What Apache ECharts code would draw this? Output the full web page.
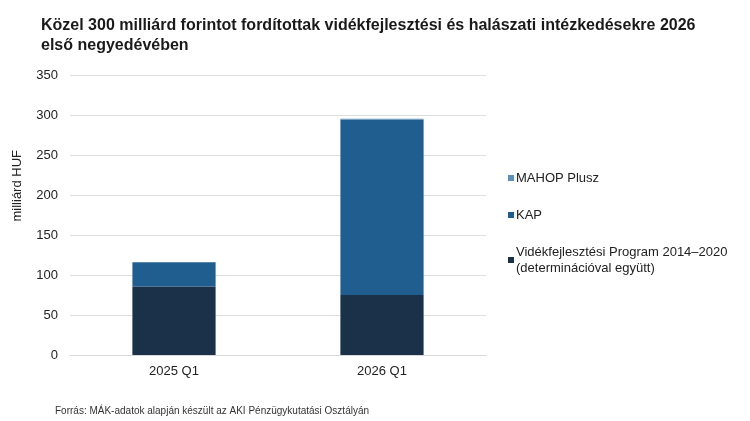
<!DOCTYPE html>
<html>
<head>
<meta charset="utf-8">
<script src="https://cdn.jsdelivr.net/npm/echarts@6/dist/echarts.min.js"></script>
<style>
  html, body { margin: 0; padding: 0; background: #fff; }
  #chart { width: 750px; height: 421px; }
</style>
</head>
<body>
<div id="chart"></div>
<script>
const categories = ['2025 Q1', '2026 Q1']
const videkValues = [85.5, 75]
const kapValues = [30.5, 219.5]
const mahopValues = [0.3, 0.8]
const yTicks = [0, 50, 100, 150, 200, 250, 300, 350]

const videkName = 'Vidékfejlesztési Program 2014–2020\n(determinációval együtt)'
const font = 'Liberation Sans, Arial, sans-serif'

const chart = echarts.init(document.getElementById('chart'))
chart.setOption({
  animation: false,
  textStyle: { fontFamily: font },
  title: [
    {
      text: 'Közel 300 milliárd forintot fordítottak vidékfejlesztési és halászati intézkedésekre 2026\nelső negyedévében',
      left: 36,
      top: 11,
      textStyle: { fontSize: 16, fontWeight: 'bold', color: '#1a1a1a', lineHeight: 20, fontFamily: font }
    },
    {
      text: 'Forrás: MÁK-adatok alapján készült az AKI Pénzügykutatási Osztályán',
      left: 50,
      top: 401,
      textStyle: { fontSize: 10, fontWeight: 'normal', color: '#333', fontFamily: font }
    }
  ],
  graphic: [
    {
      type: 'text',
      left: 11,
      top: 150,
      rotation: Math.PI / 2,
      style: { text: 'milliárd HUF', fontSize: 13, fill: '#222', fontFamily: font }
    }
  ],
  grid: { left: 70, right: 264, top: 75, bottom: 66 },
  legend: {
    orient: 'vertical',
    left: 503,
    top: 165,
    itemWidth: 6,
    itemHeight: 6,
    itemGap: 21,
    icon: 'rect',
    data: ['MAHOP Plusz', 'KAP', videkName],
    textStyle: { fontSize: 13, color: '#222', lineHeight: 16, padding: [0, 0, 0, -3] }
  },
  xAxis: {
    type: 'category',
    data: categories,
    axisLine: { show: true, lineStyle: { color: '#d9d9d9' } },
    axisTick: { show: false },
    axisLabel: { fontSize: 13, color: '#222', margin: 10 }
  },
  yAxis: {
    type: 'value',
    min: 0,
    max: 350,
    interval: 50,
    axisLabel: {
      fontSize: 13,
      color: '#222',
      margin: 12,
      formatter: v => yTicks.includes(v) ? String(v) : ''
    },
    splitLine: { lineStyle: { color: '#dedede' } }
  },
  series: [
    {
      name: videkName,
      type: 'bar',
      stack: 'total',
      barWidth: '40%',
      data: videkValues,
      itemStyle: { color: '#1b3149' }
    },
    {
      name: 'KAP',
      type: 'bar',
      stack: 'total',
      data: kapValues,
      itemStyle: { color: '#1f5e8f' }
    },
    {
      name: 'MAHOP Plusz',
      type: 'bar',
      stack: 'total',
      data: mahopValues,
      itemStyle: { color: '#5d8fb8' }
    }
  ]
})
</script>
</body>
</html>
